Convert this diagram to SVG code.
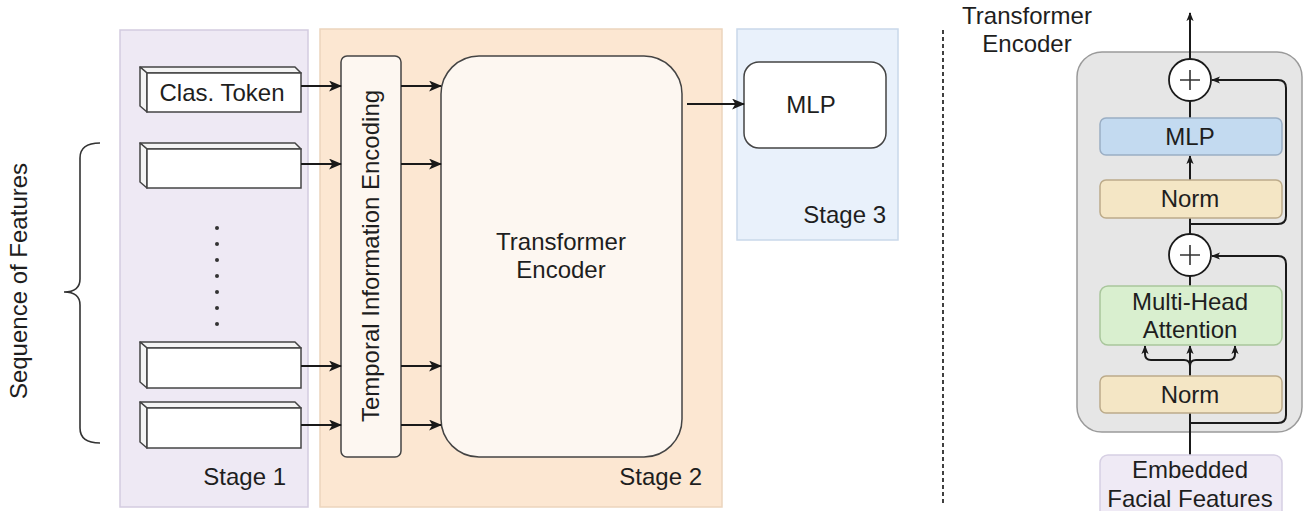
<svg xmlns="http://www.w3.org/2000/svg" width="1306" height="511" viewBox="0 0 1306 511">
<defs>
<marker id="ah" viewBox="0 0 12 10" refX="11" refY="5" markerWidth="13" markerHeight="11" markerUnits="userSpaceOnUse" orient="auto">
<path d="M0,0 L12,5 L0,10 L3,5 Z" fill="#1a1a1a"/>
</marker>
<marker id="ahs" viewBox="0 0 10 8" refX="9" refY="4" markerWidth="9" markerHeight="8" markerUnits="userSpaceOnUse" orient="auto">
<path d="M0,0 L10,4 L0,8 L2.5,4 Z" fill="#1a1a1a"/>
</marker>
<style>
text{font-family:"Liberation Sans",Arial,Helvetica,sans-serif;fill:#1e1e1e;}
.t{font-size:24px;}
.c{text-anchor:middle;}
.e{text-anchor:end;}
.tok{fill:#fff;stroke:#444;stroke-width:1.5;}
.tokside{fill:#f4f4f4;stroke:#444;stroke-width:1.5;stroke-linejoin:round;}
.con{fill:none;stroke:#1a1a1a;stroke-width:1.8;}
.rc{fill:none;stroke:#1a1a1a;stroke-width:2;}
.dot{fill:#333;}
</style>
</defs>

<g id="stage1">
<rect x="120" y="30" width="188" height="477" fill="#eee9f4" stroke="#d3cbe0" stroke-width="1.5"/>
<text class="t e" x="286" y="485">Stage 1</text>
</g>
<g id="stage2">
<rect x="320" y="29" width="402" height="478" fill="#fce7d2" stroke="#ecd5bd" stroke-width="1.5"/>
<text class="t e" x="702" y="485">Stage 2</text>
</g>
<g id="stage3">
<rect x="737" y="29" width="161" height="211" fill="#e9f1fb" stroke="#c9d8ea" stroke-width="1.5"/>
<text class="t e" x="886" y="223">Stage 3</text>
</g>

<g id="seq-label">
<text class="t c" x="27" y="281" transform="rotate(-90 27 281)">Sequence of Features</text>
<path d="M100,143 Q80,143 80,158 L80,279 Q80,292 64,292 Q80,292 80,305 L80,428 Q80,443 100,443" fill="none" stroke="#333" stroke-width="1.6"/>
</g>

<g id="token-cls">
<polygon class="tokside" points="140,67 295,67 301,73 147,73"/>
<polygon class="tokside" points="140,67 147,73 147,112 140,106"/>
<rect class="tok" x="147" y="73" width="154" height="39"/>
<text class="t c" x="222" y="101">Clas. Token</text>
</g>
<g id="token-1">
<polygon class="tokside" points="140,143 295,143 301,149 147,149"/>
<polygon class="tokside" points="140,143 147,149 147,188 140,182"/>
<rect class="tok" x="147" y="149" width="154" height="39"/>
</g>
<g id="dots">
<circle class="dot" cx="217" cy="228" r="2"/>
<circle class="dot" cx="217" cy="244" r="2"/>
<circle class="dot" cx="217" cy="260" r="2"/>
<circle class="dot" cx="217" cy="276" r="2"/>
<circle class="dot" cx="217" cy="292" r="2"/>
<circle class="dot" cx="217" cy="308" r="2"/>
<circle class="dot" cx="217" cy="324" r="2"/>
</g>
<g id="token-n1">
<polygon class="tokside" points="140,342 295,342 301,348 147,348"/>
<polygon class="tokside" points="140,342 147,348 147,388 140,382"/>
<rect class="tok" x="147" y="348" width="154" height="40"/>
</g>
<g id="token-n">
<polygon class="tokside" points="140,402 295,402 301,408 147,408"/>
<polygon class="tokside" points="140,402 147,408 147,448 140,442"/>
<rect class="tok" x="147" y="408" width="154" height="40"/>
</g>

<g id="tie">
<rect x="341" y="56" width="60" height="401" rx="6" fill="#fdf7f1" stroke="#444" stroke-width="1.5"/>
<text class="t c" x="379" y="256" transform="rotate(-90 379 256)">Temporal Information Encoding</text>
</g>

<g id="transformer">
<rect x="441" y="56" width="241" height="401" rx="38" fill="#fdf7f1" stroke="#444" stroke-width="1.5"/>
<text class="t c" x="561" y="250">Transformer</text>
<text class="t c" x="561" y="278">Encoder</text>
</g>

<g id="mlp">
<rect x="744" y="62" width="142" height="86" rx="15" fill="#fff" stroke="#444" stroke-width="1.5"/>
<text class="t c" x="811" y="113">MLP</text>
</g>

<g id="divider">
<line x1="943" y1="30" x2="943" y2="505" stroke="#111" stroke-width="1.6" stroke-dasharray="4,3"/>
</g>

<g id="enc-title">
<text class="t c" x="1027" y="24">Transformer</text>
<text class="t c" x="1027" y="52">Encoder</text>
</g>

<g id="enc-box">
<rect x="1077" y="52" width="225" height="380" rx="25" fill="#e6e6e6" stroke="#9a9a9a" stroke-width="1.5"/>
</g>

<g id="connectors">
<line class="con" x1="301" y1="86" x2="341" y2="86" marker-end="url(#ah)"/>
<line class="con" x1="301" y1="164" x2="341" y2="164" marker-end="url(#ah)"/>
<line class="con" x1="301" y1="366" x2="341" y2="366" marker-end="url(#ah)"/>
<line class="con" x1="301" y1="425" x2="341" y2="425" marker-end="url(#ah)"/>
<line class="con" x1="401" y1="86" x2="441" y2="86" marker-end="url(#ah)"/>
<line class="con" x1="401" y1="164" x2="441" y2="164" marker-end="url(#ah)"/>
<line class="con" x1="401" y1="366" x2="441" y2="366" marker-end="url(#ah)"/>
<line class="con" x1="401" y1="425" x2="441" y2="425" marker-end="url(#ah)"/>
<line class="con" x1="687" y1="104" x2="744" y2="104" marker-end="url(#ah)"/>

<line class="rc" x1="1190" y1="59" x2="1190" y2="13" marker-end="url(#ahs)"/>
<line class="rc" x1="1190" y1="118" x2="1190" y2="101"/>
<line class="rc" x1="1190" y1="180" x2="1190" y2="156" marker-end="url(#ahs)"/>
<line class="rc" x1="1190" y1="234" x2="1190" y2="218"/>
<line class="rc" x1="1190" y1="286" x2="1190" y2="276"/>
<path class="rc" d="M1190,224 L1278,224 Q1286,224 1286,216 L1286,88 Q1286,80 1278,80 L1212,80" marker-end="url(#ahs)"/>
<path class="rc" d="M1190,423 L1278,423 Q1286,423 1286,415 L1286,264 Q1286,256 1278,256 L1212,256" marker-end="url(#ahs)"/>
<line class="rc" x1="1190" y1="455" x2="1190" y2="413" stroke-width="2.6"/>
<line class="rc" x1="1190" y1="376" x2="1190" y2="346" stroke-width="2.4" marker-end="url(#ahs)"/>
<path class="rc" d="M1190,376 L1190,366 Q1190,360 1184,360 L1151,360 Q1145,360 1145,354 L1145,346" marker-end="url(#ahs)"/>
<path class="rc" d="M1190,376 L1190,366 Q1190,360 1196,360 L1229,360 Q1235,360 1235,354 L1235,346" marker-end="url(#ahs)"/>
</g>

<g id="add-top">
<circle cx="1190" cy="80" r="21" fill="#fff" stroke="#1a1a1a" stroke-width="1.8"/>
<path d="M1180,80 H1200 M1190,70 V90" stroke="#333" stroke-width="1.6"/>
</g>
<g id="enc-mlp">
<rect x="1100" y="118" width="182" height="37" rx="6" fill="#c3daf0" stroke="#9aaec4" stroke-width="1.5"/>
<text class="t c" x="1190" y="145">MLP</text>
</g>
<g id="enc-norm1">
<rect x="1100" y="180" width="182" height="38" rx="6" fill="#f4e6c5" stroke="#bcab8a" stroke-width="1.5"/>
<text class="t c" x="1190" y="207">Norm</text>
</g>
<g id="add-bottom">
<circle cx="1190" cy="255" r="21" fill="#fff" stroke="#1a1a1a" stroke-width="1.8"/>
<path d="M1180,255 H1200 M1190,245 V265" stroke="#333" stroke-width="1.6"/>
</g>
<g id="enc-mha">
<rect x="1100" y="286" width="182" height="59" rx="8" fill="#d9efcf" stroke="#a9c69c" stroke-width="1.5"/>
<text class="t c" x="1190" y="310">Multi-Head</text>
<text class="t c" x="1190" y="338">Attention</text>
</g>
<g id="enc-norm2">
<rect x="1100" y="376" width="182" height="37" rx="6" fill="#f4e6c5" stroke="#bcab8a" stroke-width="1.5"/>
<text class="t c" x="1190" y="403">Norm</text>
</g>
<g id="embedded">
<rect x="1100" y="455" width="182" height="70" rx="8" fill="#efeaf5" stroke="#d6cfe3" stroke-width="1.5"/>
<text class="t c" x="1190" y="478">Embedded</text>
<text class="t c" x="1190" y="507">Facial Features</text>
</g>
</svg>
